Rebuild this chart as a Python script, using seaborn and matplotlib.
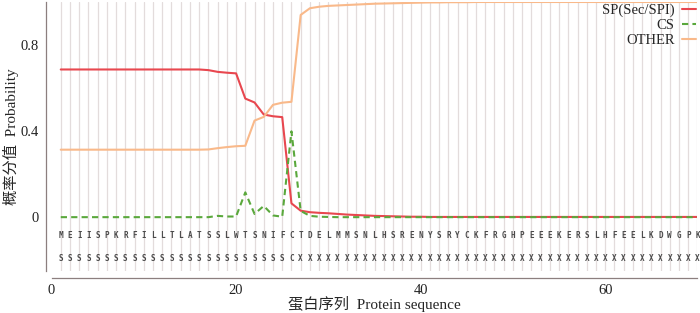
import numpy as np
import pandas as pd
import seaborn as sns
import matplotlib.pyplot as plt

SEQUENCE = "MEIISPKRFILLTLATSSLWTSNIFCTDELMMSNLHSRENYSRYCKFRGHPEEEKERSLHFEELKDWGPK"
LABELS = "S" * 25 + "C" + "X" * 44

SP = [0.685] * 16 + [0.682, 0.674, 0.670, 0.667, 0.550, 0.532, 0.476, 0.468, 0.464,
                     0.064, 0.030, 0.023, 0.020, 0.018, 0.015, 0.012, 0.010, 0.008,
                     0.006, 0.005, 0.004, 0.003, 0.002, 0.002] + [0.001] * 30
CS = [0.0] * 17 + [0.006, 0.003, 0.003, 0.115, 0.015, 0.052, 0.008, 0.002,
                   0.398, 0.029, 0.006, 0.002, 0.001] + [0.0] * 40
OTHER = [0.313] * 16 + [0.314, 0.320, 0.325, 0.329, 0.331, 0.448, 0.465, 0.521, 0.531,
                        0.535, 0.938, 0.969, 0.976, 0.980, 0.982, 0.984, 0.986, 0.988,
                        0.990, 0.991, 0.992, 0.993, 0.994, 0.995, 0.996, 0.996, 0.997,
                        0.997, 0.997] + [0.998] * 25

SERIES = ["SP(Sec/SPI)", "CS", "OTHER"]
COLORS = {"SP(Sec/SPI)": "#e8474f", "CS": "#5aa83c", "OTHER": "#f9b98a"}

pos = np.arange(1, len(SEQUENCE) + 1)
df = pd.DataFrame({"pos": pos, "SP(Sec/SPI)": SP, "CS": CS, "OTHER": OTHER})
long = df.melt(id_vars="pos", value_vars=SERIES, var_name="kind", value_name="prob")

sns.set_style("white")
serif = ["Liberation Serif", "Noto Sans CJK SC"]
plt.rcParams["font.family"] = serif

fig = plt.figure(figsize=(7, 3.13), dpi=100)
ax = fig.add_axes([0.0736, 0.134, 0.9228, 0.861])

for p in pos:
    ax.axvline(p, color="#e3dcdc", lw=0.9, zorder=0)

sns.lineplot(data=long, x="pos", y="prob", hue="kind", style="kind",
             hue_order=SERIES, style_order=SERIES, palette=COLORS,
             dashes={"SP(Sec/SPI)": "", "CS": (3, 2), "OTHER": ""},
             linewidth=1.5, ax=ax, zorder=3)

for p, aa, lab in zip(pos, SEQUENCE, LABELS):
    ax.text(p, -0.087, aa, ha="center", va="center", fontsize=5.5,
            family="DejaVu Sans Mono", fontweight="bold", color="#4a4a4a")
    ax.text(p, -0.19, lab, ha="center", va="center", fontsize=5.5,
            family="DejaVu Sans Mono", fontweight="bold", color="#4a4a4a")

ax.set_xlim(0, 70)
ax.set_ylim(-0.25, 1.0)
ax.set_xticks([0, 20, 40, 60])
ax.set_xticks([10, 30, 50], minor=True)
ax.set_yticks([0, 0.4, 0.8])
ax.set_yticklabels(["0", "0.4", "0.8"])
ax.set_yticks([-0.2, 0.2, 0.6], minor=True)
ax.tick_params(axis="both", which="both", direction="out", color="#8c7f7f",
               labelsize=10.5, labelcolor="#222222", length=3.5, width=0.9, pad=1.5)
ax.tick_params(axis="x", pad=1)

for s in ["top", "right"]:
    ax.spines[s].set_visible(False)
ax.spines["left"].set_position(("outward", 4))
ax.spines["bottom"].set_position(("outward", 5))
for s in ["left", "bottom"]:
    ax.spines[s].set_color("#8c7f7f")
    ax.spines[s].set_linewidth(0.9)

ax.set_xlabel("蛋白序列  Protein sequence", fontsize=11, family=serif, labelpad=-1)
ax.set_ylabel("概率分值  Probability", fontsize=11, family=serif, labelpad=1)

leg = ax.legend(loc="upper right", bbox_to_anchor=(1.012, 1.025), frameon=False,
                markerfirst=False, fontsize=10.5, handlelength=1.0,
                handletextpad=0.5, labelspacing=0.12, borderaxespad=0.2)
for t in leg.get_texts():
    t.set_ha("right")

fig.savefig("out.png", dpi=100)
